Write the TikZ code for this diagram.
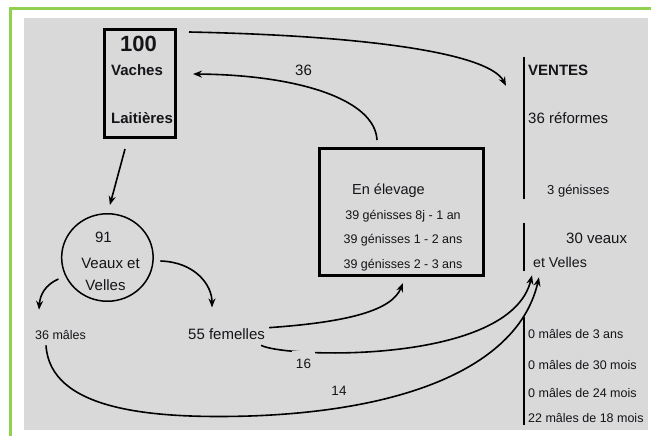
\documentclass[tikz,border=0pt]{standalone}
\usepackage{fontspec}
\setmainfont{Liberation Sans}
\usetikzlibrary{arrows.meta, calc, shapes.geometric}
\definecolor{bggray}    {RGB}{217, 217, 217}
\definecolor{framegreen}{RGB}{146, 208,  80}
\definecolor{inktext}   {RGB}{ 20,  20,  25}

\begin{document}
\begin{tikzpicture}[x=1pt, y=-1pt,
  txt/.style={inner sep=0pt, anchor=base west, text=inktext},
  cbox/.style={draw, line width=3pt, inner sep=0pt},
  arr/.style={-{Stealth[length=9pt, width=7pt]}, line width=1.6pt},
  fbig/.style={font=\fontsize{22}{26}\selectfont\bfseries},
  flab/.style={font=\fontsize{15}{18}\selectfont},
  flabb/.style={font=\fontsize{15}{18}\selectfont\bfseries},
  fmid/.style={font=\fontsize{13.5}{16}\selectfont},
  fsm/.style={font=\fontsize{12.5}{15}\selectfont}]
  % frame
  \useasboundingbox (0,0) rectangle (651,436);
  \fill[bggray] (24,18) rectangle (648,430);
  \draw[framegreen, line width=3pt] (10.5,436) -- (10.5,9) -- (651,9);
  % herd
  \node[cbox, minimum width=71pt, minimum height=108pt] (vaches) at (140,83.5) {};
  \node[txt, fbig, anchor=base] (cent) at (138.5,52) {100};
  \node[txt, flabb] (vach) at (111,76) {Vaches};
  \node[txt, flabb] (lait) at (111,124) {Laitières};
  % calves
  \node[draw, ellipse, line width=1.5pt, minimum width=91.5pt, minimum height=87.5pt, inner sep=0pt] (veaux) at (107.4,257.5) {};
  \node[txt, flab, anchor=base] (n91) at (103.5,242) {91};
  \node[txt, flab, anchor=base] (vx) at (110.5,268) {Veaux et};
  \node[txt, flab, anchor=base] (vl) at (105.5,290) {Velles};
  \node[txt, fsm] (males) at (35,339) {36 mâles};
  \node[txt, flab] (femelles) at (188,339) {55 femelles};
  % rearing
  \node[cbox, minimum width=164pt, minimum height=127pt] (elevage) at (401.5,212) {};
  \node[txt, font=\fontsize{14.5}{17}\selectfont] (enel) at (352,194) {En élevage};
  \node[txt, fsm, anchor=base] (g1) at (403,219) {39 génisses 8j - 1 an};
  \node[txt, fsm, anchor=base] (g2) at (403,243) {39 génisses 1 - 2 ans};
  \node[txt, fsm, anchor=base] (g3) at (403,268) {39 génisses 2 - 3 ans};
  % sales
  \draw[line width=2pt] (524,57) -- (524,199);
  \draw[line width=2pt] (524,223) -- (524,271);
  \draw[line width=2pt] (524,317) -- (524,425);
  \node[txt, flabb] (ventes) at (528,76) {VENTES};
  \node[txt, flab] (reformes) at (528,124) {36 réformes};
  \node[txt, font=\fontsize{13}{16}\selectfont] (gen3) at (547,194) {3 génisses};
  \node[txt, flab] (veaux30) at (566,243) {30 veaux};
  \node[txt, font=\fontsize{14.2}{17}\selectfont] (etvelles) at (533,267) {et Velles};
  \node[txt, fsm] (m3) at (528,338) {0 mâles de 3 ans};
  \node[txt, fsm] (m30) at (528,369) {0 mâles de 30 mois};
  \node[txt, fsm] (m24) at (528,397) {0 mâles de 24 mois};
  \node[txt, fsm] (m18) at (528,422) {22 mâles de 18 mois};
  % flows
  \draw[arr] ($(vaches.north east)+(12,4)$) .. controls (380,36) and (490,55) .. ($(ventes.west)+(-22,15)$);
  \draw[arr] ($(elevage.north)+(-24.5,-7)$) .. controls (375,100) and (300,75) .. ($(vaches.east)+(16,-9.5)$);
  \draw[arr] ($(vaches.south)+(-15,10)$) -- ($(veaux.north)+(2.5,-8)$);
  \draw[arr] ($(veaux.west)+(-2.5,21.5)$) .. controls (45,285) and (40,295) .. ($(males.north west)+(4,-20)$);
  \draw[arr] ($(veaux.east)+(6.5,3.5)$) .. controls (195,262) and (212,285) .. ($(femelles.north west)+(24,-20.5)$);
  \draw[arr] ($(femelles.east)+(4,-6)$) .. controls (350,322) and (392,310) .. ($(elevage.south)+(1.5,6)$);
  \draw[arr] ($(femelles.south east)+(-4,6)$) .. controls (285,358) and (510,365) .. ($(etvelles.south west)+(-1,8)$);
  \draw[arr] ($(males.south west)+(11,6)$) .. controls (50,410) and (150,419) .. (250,416)
    .. controls (420,410) and (520,360) .. ($(etvelles.south west)+(6,10)$);
  % flow labels
  \node[txt, flab, anchor=base] (n36) at (303.5,76) {36};
  \node[txt, fmid, anchor=base, fill=bggray, inner xsep=4pt, inner ysep=7.5pt] (n16) at (303.5,368) {16};
  \node[txt, fmid, anchor=base] (n14) at (339,395) {14};
\end{tikzpicture}
\end{document}
